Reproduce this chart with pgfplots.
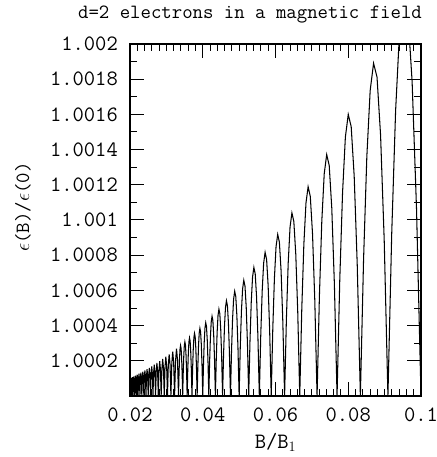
\documentclass[border=0pt]{standalone}
\usepackage{fontspec}
\usepackage{pgfplots}
\pgfplotsset{compat=1.18}
\newcommand{\ticktt}{\ttfamily\fontsize{22}{26}\selectfont}
\newcommand{\titlett}{\ttfamily\fontsize{20.3}{24}\selectfont}
\begin{document}
\begin{tikzpicture}
\useasboundingbox (-130bp,-61bp) rectangle (307bp,396bp);
\begin{axis}[
  at={(0,0)}, anchor=south west,
  scale only axis, width=291bp, height=352bp,
  xmin=0.02, xmax=0.1, ymin=1, ymax=1.002,
  /pgf/number format/assume math mode=true,
  xtick={0.02,0.04,0.06,0.08,0.1},
  xticklabels={0.02,0.04,0.06,0.08,0.1},
  ytick={1.0002,1.0004,1.0006,1.0008,1.001,1.0012,1.0014,1.0016,1.0018,1.002},
  yticklabels={1.0002,1.0004,1.0006,1.0008,1.001,1.0012,1.0014,1.0016,1.0018,1.002},
  minor x tick num=9, minor y tick num=1,
  tick align=inside, xtick pos=both, ytick pos=both,
  major tick length=14bp, minor tick length=7bp,
  every tick/.style={black, line width=1bp},
  axis line style={line width=1.4bp},
  xticklabel style={font=\ticktt, anchor=base, inner sep=0pt, yshift=-25.5bp},
  yticklabel style={font=\ticktt, anchor=east, inner sep=0pt, xshift=-12bp},
  title={d=2 electrons in a magnetic field},
  title style={font=\titlett, anchor=base, inner sep=0pt, at={(rel axis cs:0.4124,1)}, yshift=20bp},
  xlabel={B/B$_1$},
  xlabel style={font=\ticktt, anchor=base, inner sep=0pt, at={(rel axis cs:0.5,0)}, yshift=-52bp},
  ylabel={$\epsilon$(B)/$\epsilon$(0)},
  ylabel style={font=\titlett, anchor=base, inner sep=0pt, at={(axis description cs:-0.347,0.537)}},
]
\addplot[black, line width=1.05bp] table {
x y
0.1 1
0.098765 1.0010669
0.097561 1.0017847
0.096386 1.0021774
0.095238 1.0022676
0.094118 1.0020761
0.093023 1.0016225
0.091954 1.0009248
0.090909 1
0.089888 1.0008837
0.088889 1.0014815
0.087912 1.0018114
0.086957 1.0018904
0.086022 1.0017343
0.085106 1.0013581
0.084211 1.0007756
0.083333 1
0.082474 1.0007440
0.081633 1.0012495
0.080808 1.0015305
0.08 1.0016
0.079208 1.0014704
0.078431 1.0011534
0.077670 1.0006598
0.076923 1
0.076190 1.0006349
0.075472 1.0010680
0.074766 1.0013102
0.074074 1.0013717
0.073394 1.0012625
0.072727 1.0009917
0.072072 1.0005681
0.071429 1
0.070796 1.0005482
0.070175 1.0009234
0.069565 1.0011342
0.068966 1.0011891
0.068376 1.0010958
0.067797 1.0008618
0.067227 1.0004943
0.066667 1
0.066116 1.0004781
0.065574 1.0008062
0.065041 1.0009915
0.064516 1.0010406
0.064 1.00096
0.063492 1.0007559
0.062992 1.0004340
0.0625 1
0.062016 1.0004207
0.061538 1.0007101
0.061069 1.0008741
0.060606 1.0009183
0.060150 1.0008480
0.059701 1.0006683
0.059259 1.0003841
0.058824 1
0.058394 1.0003730
0.057971 1.0006301
0.057554 1.0007764
0.057143 1.0008163
0.056738 1.0007545
0.056338 1.0005951
0.055944 1.0003423
0.055556 1
0.055172 1.0003329
0.054795 1.0005630
0.054422 1.0006942
0.054054 1.0007305
0.053691 1.0006757
0.053333 1.0005333
0.052980 1.0003070
0.052632 1
0.052288 1.0002990
0.051948 1.0005060
0.051613 1.0006243
0.051282 1.0006575
0.050955 1.0006085
0.050633 1.0004807
0.050314 1.0002769
0.05 1
0.049689 1.0002700
0.049383 1.0004572
0.049080 1.0005646
0.048780 1.0005949
0.048485 1.0005510
0.048193 1.0004355
0.047904 1.0002510
0.047619 1
0.047337 1.0002451
0.047059 1.0004152
0.046784 1.0005130
0.046512 1.0005408
0.046243 1.0005012
0.045977 1.0003964
0.045714 1.0002286
0.045455 1
0.045198 1.0002234
0.044944 1.0003787
0.044693 1.0004682
0.044444 1.0004938
0.044199 1.0004579
0.043956 1.0003623
0.043716 1.0002090
0.043478 1
0.043243 1.0002045
0.043011 1.0003469
0.042781 1.0004290
0.042553 1.0004527
0.042328 1.0004199
0.042105 1.0003324
0.041885 1.0001919
0.041667 1
0.041451 1.0001879
0.041237 1.0003188
0.041026 1.0003945
0.040816 1.0004165
0.040609 1.0003865
0.040404 1.0003061
0.040201 1.0001768
0.04 1
0.039801 1.0001733
0.039604 1.0002941
0.039409 1.0003640
0.039216 1.0003845
0.039024 1.0003569
0.038835 1.0002828
0.038647 1.0001634
0.038462 1
0.038278 1.0001603
0.038095 1.0002721
0.037915 1.0003369
0.037736 1.0003560
0.037559 1.0003306
0.037383 1.0002620
0.037209 1.0001514
0.037037 1
0.036866 1.0001487
0.036697 1.0002525
0.036530 1.0003128
0.036364 1.0003306
0.036199 1.0003071
0.036036 1.0002435
0.035874 1.0001408
0.035714 1
0.035556 1.0001383
0.035398 1.0002349
0.035242 1.0002911
0.035088 1.0003078
0.034934 1.0002860
0.034783 1.0002268
0.034632 1.0001312
0.034483 1
0.034335 1.0001289
0.034188 1.0002192
0.034043 1.0002716
0.033898 1.0002873
0.033755 1.0002671
0.033613 1.0002119
0.033473 1.0001225
0.033333 1
0.033058 1.0002049
0.032787 1.0002687
0.032520 1.0001983
0.032258 1
0.032 1.000192
0.031746 1.0002520
0.031496 1.0001860
0.03125 1
0.031008 1.0001803
0.030769 1.0002367
0.030534 1.0001748
0.030303 1
0.030075 1.0001696
0.029851 1.0002228
0.029630 1.0001646
0.029412 1
0.029197 1.0001598
0.028986 1.0002100
0.028777 1.0001553
0.028571 1
0.028369 1.0001509
0.028169 1.0001984
0.027972 1.0001467
0.027778 1
0.027586 1.0001427
0.027397 1.0001877
0.027211 1.0001388
0.027027 1
0.026846 1.0001351
0.026667 1.0001778
0.026490 1.0001316
0.026316 1
0.026144 1.0001282
0.025974 1.0001687
0.025806 1.0001249
0.025641 1
0.025478 1.0001217
0.025316 1.0001602
0.025157 1.0001187
0.025 1
0.024845 1.0001157
0.024691 1.0001524
0.024540 1.0001129
0.024390 1
0.024242 1.0001102
0.024096 1.0001452
0.023952 1.0001076
0.023810 1
0.023669 1.0001050
0.023529 1.0001384
0.023392 1.0001026
0.023256 1
0.023121 1.0001002
0.022989 1.0001321
0.022857 1.0000980
0.022727 1
0.022599 1.0000958
0.022472 1.0001262
0.022346 1.0000936
0.022222 1
0.022099 1.0000916
0.021978 1.0001208
0.021858 1.0000896
0.021739 1
0.021622 1.0000877
0.021505 1.0001156
0.021390 1.0000858
0.021277 1
0.021164 1.0000840
0.021053 1.0001108
0.020942 1.0000822
0.020833 1
0.020725 1.0000805
0.020619 1.0001063
0.020513 1.0000789
0.020408 1
0.020305 1.0000773
0.020202 1.0001020
0.020101 1.0000758
0.02 1
};
\end{axis}
\end{tikzpicture}
\end{document}
